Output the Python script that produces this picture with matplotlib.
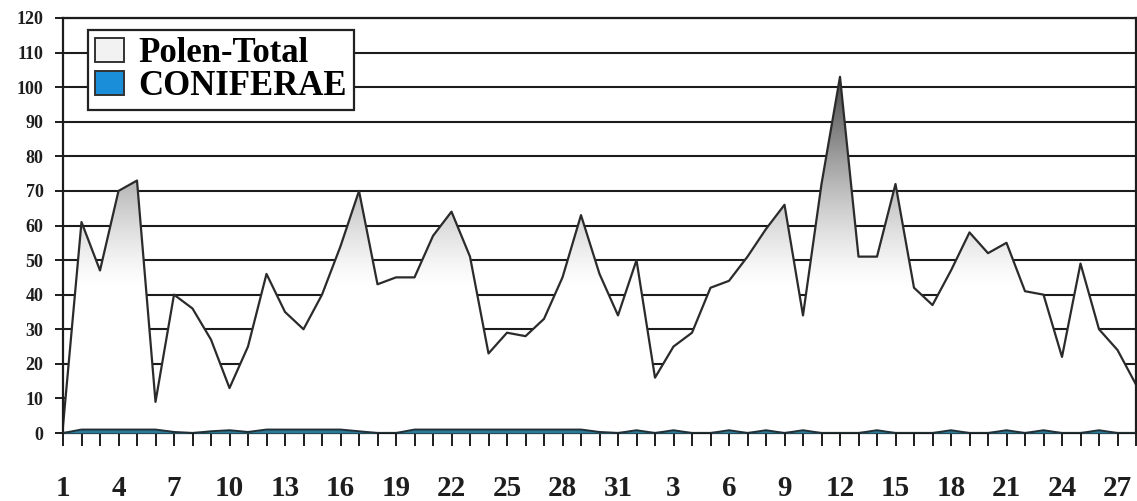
import numpy as np
import matplotlib
matplotlib.use("Agg")
import matplotlib.pyplot as plt
from matplotlib.patches import Patch, Polygon

# Daily pollen counts, January (31 days) followed by February (28 days)
days = list(range(1, 32)) + list(range(1, 29))
polen_total = [2, 61, 47, 70, 73, 9, 40, 36, 27, 13,
               25, 46, 35, 30, 40, 54, 70, 43, 45, 45,
               57, 64, 51, 23, 29, 28, 33, 45, 63, 46, 34,
               50, 16, 25, 29, 42, 44, 51, 59, 66, 34,
               72, 103, 51, 51, 72, 42, 37, 47, 58, 52,
               55, 41, 40, 22, 49, 30, 24, 14]
coniferae = [0, 1, 1, 1, 1, 1, 0.3, 0, 0.5, 0.8,
             0.3, 1, 1, 1, 1, 1, 0.5, 0, 0, 1,
             1, 1, 1, 1, 1, 1, 1, 1, 1, 0.3, 0,
             0.8, 0, 0.8, 0, 0, 0.8, 0, 0.8, 0, 0.8,
             0, 0, 0, 0.8, 0, 0, 0, 0.8, 0, 0,
             0.8, 0, 0.8, 0, 0, 0.8, 0, 0]
series_names = ["Polen-Total", "CONIFERAE"]
y_ticks = list(range(0, 121, 10))

serif = "Liberation Serif"
x = np.arange(len(days))

fig = plt.figure(figsize=(11.37, 5.01), dpi=100)
ax = fig.add_axes([63 / 1137, 68 / 501, 1073 / 1137, 415 / 501])

# horizontal grid behind the area
ax.set_axisbelow(True)
ax.yaxis.grid(True, color="#1c1c1c", linewidth=1.5)
ax.xaxis.grid(False)

# gradient-filled area for the total count (white low, dark grey high)
verts = [(x[0], 0)] + list(zip(x, polen_total)) + [(x[-1], 0)]
poly = Polygon(verts, closed=True, facecolor="none", edgecolor="none")
ax.add_patch(poly)
yy = np.linspace(0, 120, 600)
t = np.clip((yy - 42) / (105 - 42), 0, 1)
g = (1 - 0.76 * t ** 1.35)[:, None]
rgb = np.dstack([g, g, g]).repeat(2, axis=1)
img = ax.imshow(rgb, extent=[x[0], x[-1], 0, 120], origin="lower",
                aspect="auto", interpolation="bilinear", zorder=1)
img.set_clip_path(poly)
ax.set_xlim(0, len(days) - 1)
ax.set_ylim(0, 120)
ax.plot(x, polen_total, color="#2b2b2b", linewidth=1.6, zorder=2)

# conifer counts along the baseline
ax.fill_between(x, 0, coniferae, color="#2a7c98", zorder=3, linewidth=0)
ax.plot(x, coniferae, color="#203038", linewidth=1.4, zorder=3)

for s in ["left", "bottom", "right", "top"]:
    ax.spines[s].set_color("#1c1c1c")
    ax.spines[s].set_linewidth(1.6)

ax.set_yticks(y_ticks)
ax.set_yticklabels([str(v) for v in y_ticks], fontfamily=serif,
                   fontweight="bold", fontsize=13, color="#1e1e1e")
ax.tick_params(axis="y", direction="out", length=6, width=1.4,
               color="#1c1c1c", pad=8)

ax.set_xticks(x)
ax.set_xticklabels([str(d) if i % 3 == 0 and i < len(days) - 1 else ""
                    for i, d in enumerate(days)],
                   fontfamily=serif, fontweight="bold", fontsize=21,
                   color="#1e1e1e")
ax.tick_params(axis="x", direction="out", length=9, width=1.4,
               color="#1c1c1c", pad=21)

handles = [Patch(facecolor="#f2f2f2", edgecolor="#333333", linewidth=1.4),
           Patch(facecolor="#1a8ed8", edgecolor="#333333", linewidth=1.4)]
leg = ax.legend(handles, series_names, loc="upper left",
                bbox_to_anchor=(88 / 1137, 1 - 30 / 501),
                bbox_transform=fig.transFigure,
                prop={"family": serif, "weight": "bold", "size": 25},
                frameon=True, fancybox=False, framealpha=1,
                edgecolor="#222222", handlelength=0.85, handleheight=0.7,
                handletextpad=0.4, borderpad=0.2, labelspacing=0.0,
                borderaxespad=0)
leg.get_frame().set_linewidth(1.6)
leg.set_zorder(5)

fig.savefig("out.png", dpi=100)
